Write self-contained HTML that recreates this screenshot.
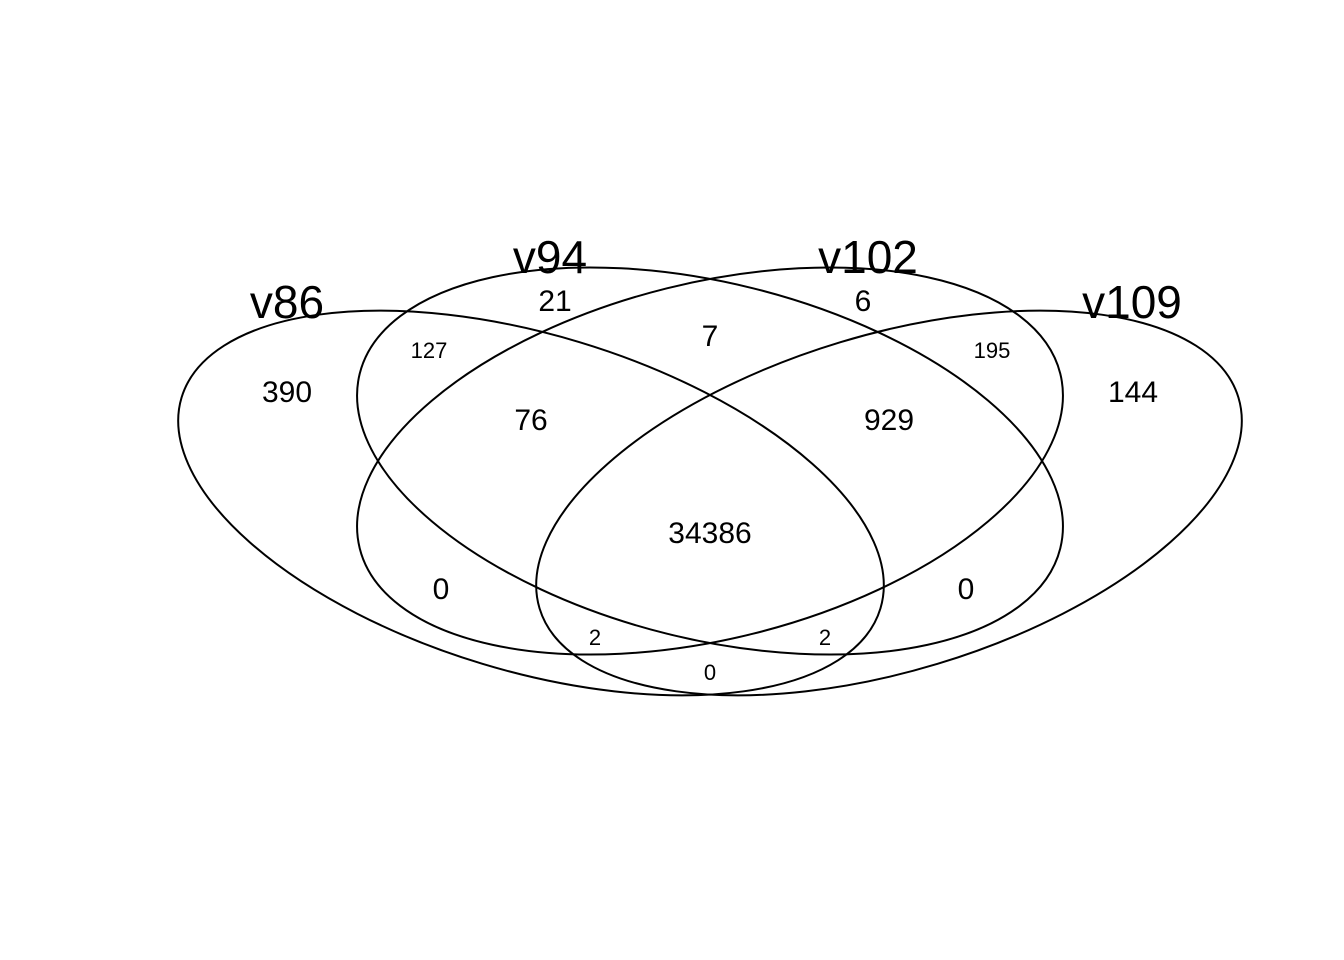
<!DOCTYPE html>
<html><head><style>html,body{margin:0;padding:0;background:#fff;}svg{display:block}</style></head>
<body>
<svg width="1344" height="960" xmlns="http://www.w3.org/2000/svg" font-family="Liberation Sans, Arial, sans-serif">
<g fill="none" stroke="#000" stroke-width="2">
<ellipse cx="531" cy="503" rx="365" ry="168" transform="rotate(16.8 531 503)"/>
<ellipse cx="889" cy="503" rx="365" ry="168" transform="rotate(-16.8 889 503)"/>
<ellipse cx="710" cy="461" rx="361" ry="178" transform="rotate(14 710 461)"/>
<ellipse cx="710" cy="461" rx="361" ry="178" transform="rotate(-14 710 461)"/>
</g>
<g text-anchor="middle" fill="#000">
<text x="287" y="318" font-size="46">v86</text>
<text x="550" y="273" font-size="46">v94</text>
<text x="868" y="273" font-size="46">v102</text>
<text x="1132" y="318" font-size="46">v109</text>
<g font-size="30">
<text x="287" y="402">390</text>
<text x="555" y="311">21</text>
<text x="710" y="346">7</text>
<text x="863" y="311">6</text>
<text x="1133" y="402">144</text>
<text x="531" y="430">76</text>
<text x="889" y="430">929</text>
<text x="710" y="543">34386</text>
<text x="441" y="599">0</text>
<text x="966" y="599">0</text>
</g>
<g font-size="22">
<text x="429" y="358">127</text>
<text x="992" y="358">195</text>
<text x="595" y="645">2</text>
<text x="825" y="645">2</text>
<text x="710" y="680">0</text>
</g>
</g>
</svg>
</body></html>
